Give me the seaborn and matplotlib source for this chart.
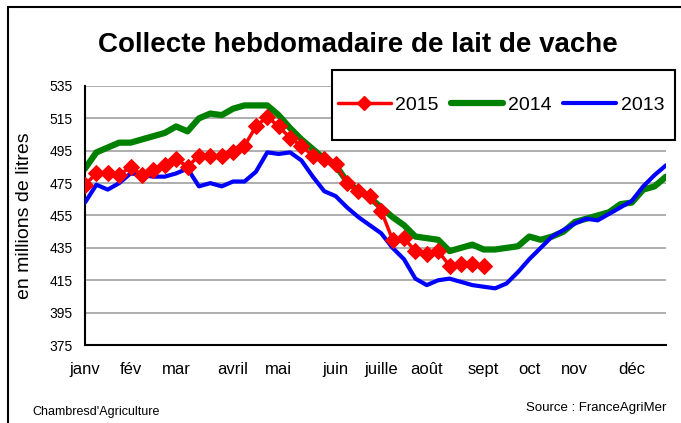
import numpy as np
import pandas as pd
import seaborn as sns
import matplotlib
matplotlib.use('Agg')
import matplotlib.pyplot as plt
from matplotlib.patches import Rectangle
from matplotlib.lines import Line2D

# semaines 1..52
weeks = np.arange(1, 53)

lait_2015 = [474, 481, 481, 480, 485, 480, 483, 486, 490, 485, 492, 492,
             492, 494, 498, 510, 516, 510, 503, 498, 492, 490, 487, 475,
             470, 467, 458, 440, 441, 433, 431, 433, 424, 425, 425, 424]
lait_2014 = [484, 494, 497, 500, 500, 502, 504, 506, 510, 507, 515, 518,
             517, 521, 523, 523, 523, 517, 509, 502, 496, 490, 486, 476,
             470, 466, 460, 454, 449, 442, 441, 440, 433, 435, 437, 434,
             434, 435, 436, 442, 440, 442, 445, 451, 453, 455, 457, 462,
             463, 471, 473, 479]
lait_2013 = [463, 474, 471, 475, 481, 480, 479, 479, 481, 484, 473, 475,
             473, 476, 476, 482, 494, 493, 494, 489, 479, 470, 467, 460,
             454, 449, 444, 435, 428, 416, 412, 415, 416, 414, 412, 411,
             410, 413, 420, 428, 435, 442, 446, 450, 453, 452, 456, 460,
             464, 473, 480, 486]

mois = ['janv', 'fév', 'mar', 'avril', 'mai', 'juin', 'juille', 'août',
        'sept', 'oct', 'nov', 'déc']
mois_semaine = [1, 5, 9, 14, 18, 23, 27, 31, 36, 40, 44, 49]
yticks = np.arange(375, 536, 20)

sns.set_style('white')
plt.rcParams['font.family'] = ['Liberation Sans', 'DejaVu Sans']
for k in ['text.color', 'axes.labelcolor', 'xtick.color', 'ytick.color']:
    plt.rcParams[k] = 'black'

fig = plt.figure(figsize=(6.81, 4.23), dpi=100)
ax = fig.add_axes([85/681, 1-345/423, (666-85)/681, (345-86)/423])

# ordre de dessin : 2014 dessous, puis 2013, puis 2015
sns.lineplot(x=weeks, y=lait_2014, color='#008000', linewidth=4.5, ax=ax, zorder=2)
sns.lineplot(x=weeks, y=lait_2013, color='#0000ff', linewidth=3, ax=ax, zorder=3)
sns.lineplot(x=weeks[:len(lait_2015)], y=lait_2015, color='#ff0000', linewidth=2.5,
             marker='D', markersize=8, markeredgecolor='#ff0000', ax=ax, zorder=4)

ax.set_xlim(1, 52)
ax.set_ylim(375, 535)
ax.set_yticks(yticks)
ax.set_yticklabels([str(v) for v in yticks], fontsize=10)
ax.yaxis.grid(True, color='#a8a8a8', linewidth=1.3)
ax.set_axisbelow(True)

ax.xaxis.remove_overlapping_locs = False
ax.set_xticks(np.arange(1, 53, 3))
ax.set_xticklabels([])
ax.set_xticks(mois_semaine, minor=True)
ax.set_xticklabels(mois, minor=True, fontsize=12)
ax.tick_params(axis='x', which='major', direction='inout', length=9, width=1.5, color='black')
ax.tick_params(axis='x', which='minor', length=0, pad=12)
ax.tick_params(axis='y', direction='out', length=6, width=1.5, color='black', pad=3)

for s in ['top', 'right']:
    ax.spines[s].set_visible(False)
for s in ['left', 'bottom']:
    ax.spines[s].set_color('black')
    ax.spines[s].set_linewidth(1.5)

ax.set_ylabel('en millions de litres', fontsize=14)
ax.yaxis.set_label_coords(-0.09, 0.5)

fig.text(358/681, 1-45/423, 'Collecte hebdomadaire de lait de vache', ha='center', va='center',
         fontsize=20, fontweight='bold')

# cadre de la légende
fig.add_artist(Rectangle((332/681, 1-140/423), (675-332)/681, 70/423, transform=fig.transFigure,
                         facecolor='white', edgecolor='black', linewidth=1.5))
handles = [
    Line2D([], [], color='#ff0000', lw=2.5, marker='D', markersize=7),
    Line2D([], [], color='#008000', lw=4.5),
    Line2D([], [], color='#0000ff', lw=3),
]
fig.legend(handles, ['2015', '2014', '2013'], ncol=3, loc='center left',
           bbox_to_anchor=(338/681, 1-105/423), prop={'size': 14}, frameon=False,
           handlelength=2.7, handletextpad=0.25, columnspacing=0.6, borderaxespad=0, borderpad=0)

fig.text(32/681, 1-412/423, "Chambresd'Agriculture", ha='left', va='center', fontsize=9)
fig.text(666/681, 1-408/423, 'Source : FranceAgriMer', ha='right', va='center', fontsize=9.5)

fig.add_artist(Rectangle((8/681, -0.05), 1.1, 1-7/423+0.05, transform=fig.transFigure,
                         fill=False, edgecolor='black', linewidth=1.5, clip_on=False))

fig.savefig('out.png', dpi=100)
